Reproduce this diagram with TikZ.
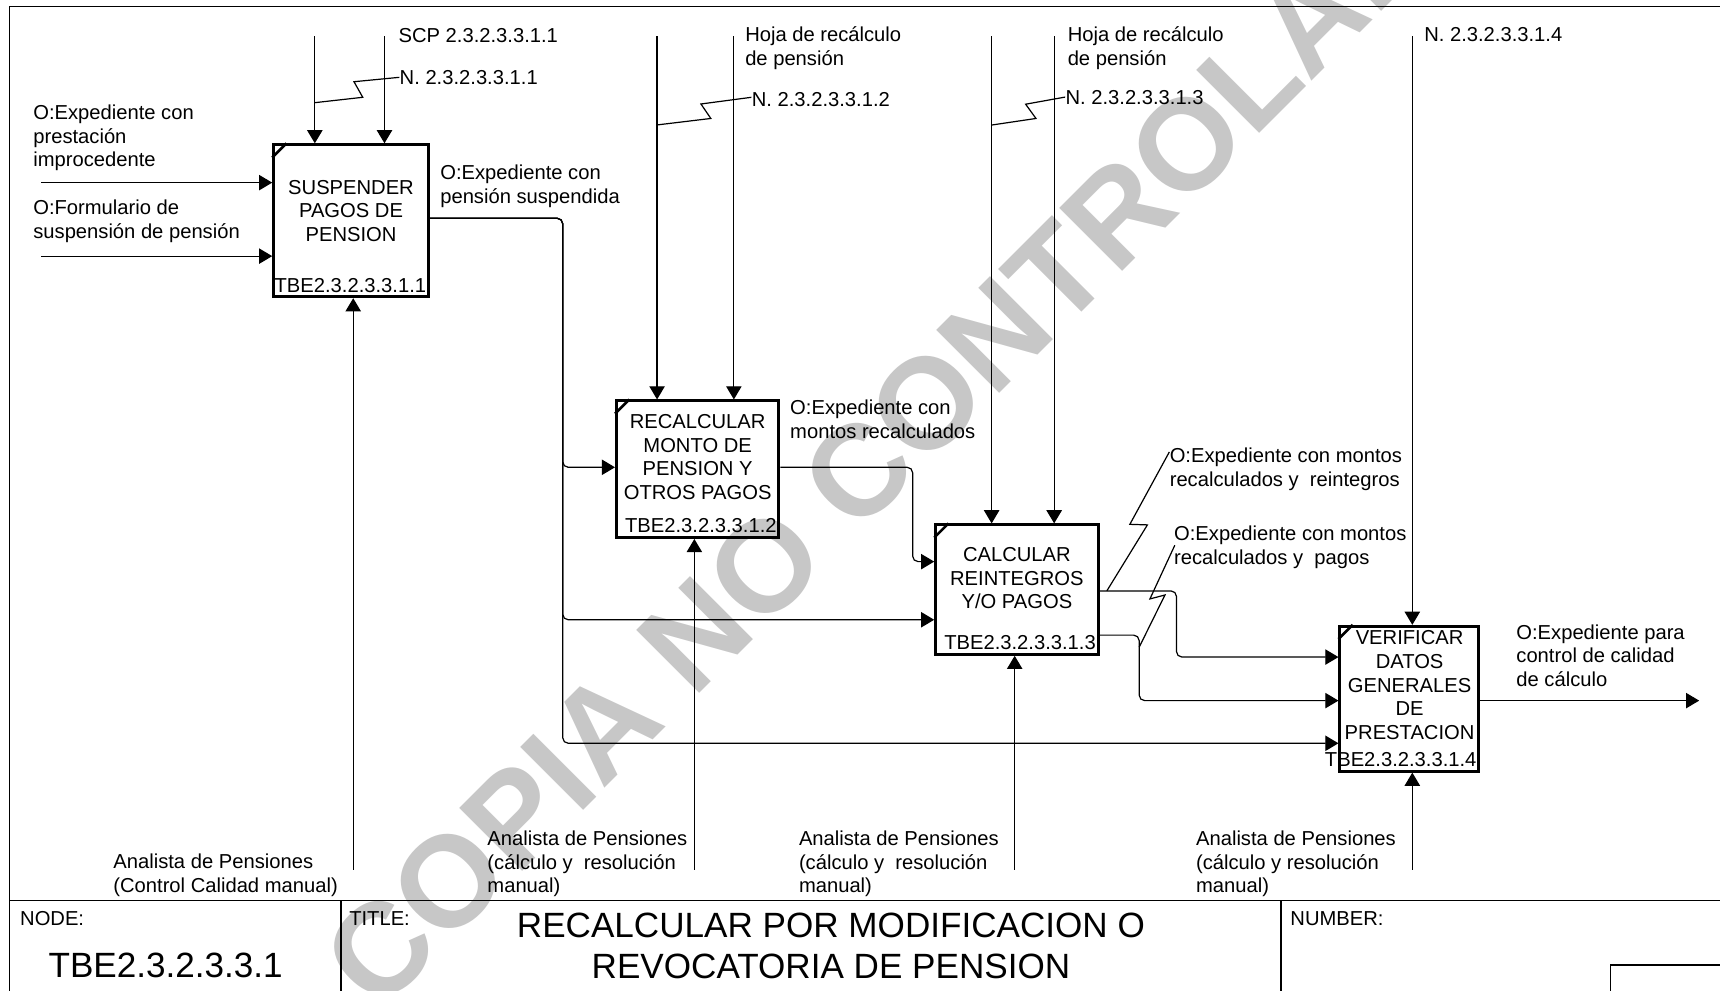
\documentclass[tikz,border=0pt]{standalone}
\usepackage{fontspec}
\setmainfont{Liberation Sans}
\usetikzlibrary{arrows.meta,fit}
\newcommand\fl{\rule{0pt}{10pt}}
\newcommand\flT{\rule{0pt}{16pt}}
\begin{document}
\begin{tikzpicture}[x=0.5pt,y=-0.5pt,
  txt/.style={inner sep=0pt, font=\fontsize{9.2}{10.75}\selectfont},
  lbl/.style={txt, align=left, anchor=north west},
  btxt/.style={txt, align=center, anchor=north},
  code/.style={txt, anchor=base east},
  bigtxt/.style={inner sep=0pt, font=\fontsize{16}{18.5}\selectfont},
  pbox/.style={draw, line width=1.35pt, inner sep=0pt},
  ln/.style={line width=0.55pt},
  arr/.style={ln, -{Triangle[length=6pt,width=7pt]}},
  flow/.style={arr, rounded corners=2.5pt},
  framel/.style={line width=0.75pt},
  tick/.style={line width=1.2pt},
  wmark/.style={rotate=45, anchor=base west, inner sep=0pt, text=black!22,
    font=\fontsize{59}{62}\selectfont\bfseries},
]
\path[use as bounding box] (0,0) rectangle (1568,903);
\clip (0,0) rectangle (1568,903);

% watermark (behind)
\node[wmark] (wm) at (345,925) {COPIA NO CONTROLADA};

% frame and title block
\draw[framel] (8.7,1000) -- (8.7,6) -- (1600,6);
\draw[framel] (8.7,821) -- (1600,821);
\draw[framel] (311,821) -- (311,1000);
\draw[framel] (1168,821) -- (1168,1000);
\draw[framel] (1468,1000) -- (1468,880) -- (1600,880);

\node[txt, anchor=base west] (nd) at (18,844) {NODE:};
\node[txt, anchor=base west] (tt) at (318,844) {TITLE:};
\node[txt, anchor=base west] (nb) at (1176,844) {NUMBER:};
\node[bigtxt, anchor=base] (nv) at (151,891.5) {TBE2.3.2.3.3.1};
\node[bigtxt, align=center, anchor=north] (tv) at (757.5,822.5)
  {\flT RECALCULAR POR MODIFICACION O\\REVOCATORIA DE PENSION};

% boxes
\node[pbox, fit={(249.5,132) (390.5,270.5)}] (b1) {};
\node[pbox, fit={(562,365.5) (710,490)}] (b2) {};
\node[pbox, fit={(853,478.5) (1001,596.5)}] (b3) {};
\node[pbox, fit={(1221.5,571) (1348,703)}] (b4) {};
\foreach \b in {b1,b2,b3,b4}
  \draw[tick] ([yshift=-6.5pt]\b.north west) -- ([xshift=6.5pt]\b.north west);

\node[btxt] (t1) at (320,156.5) {\fl SUSPENDER\\PAGOS DE\\PENSION};
\node[btxt] (t2) at (636,370.5) {\fl RECALCULAR\\MONTO DE\\PENSION Y\\OTROS PAGOS};
\node[btxt] (t3) at (927,491.5) {\fl CALCULAR\\REINTEGROS\\Y/O PAGOS};
\node[btxt] (t4) at (1285,567.5) {\fl VERIFICAR\\DATOS\\GENERALES\\DE\\PRESTACION};
\node[code] (k1) at ([xshift=-1.5pt,yshift=2.75pt]b1.south east) {TBE2.3.2.3.3.1.1};
\node[code] (k2) at ([xshift=-1.5pt,yshift=2.75pt]b2.south east) {TBE2.3.2.3.3.1.2};
\node[code] (k3) at ([xshift=-1.5pt,yshift=2.75pt]b3.south east) {TBE2.3.2.3.3.1.3};
\node[code] (k4) at ([xshift=-1.5pt,yshift=2.75pt]b4.south east) {TBE2.3.2.3.3.1.4};

% labels
\node[lbl] (l1) at (30,88.5) {\fl O:Expediente con\\prestación\\improcedente};
\node[lbl] (l2) at (30,175.5) {\fl O:Formulario de\\suspensión de pensión};
\node[lbl] (l3) at (363,18) {\fl SCP 2.3.2.3.3.1.1};
\node[lbl] (l4) at (364,56.5) {\fl N. 2.3.2.3.3.1.1};
\node[lbl] (l5) at (401,143.5) {\fl O:Expediente con\\pensión suspendida};
\node[lbl] (l6) at (679,17.5) {\fl Hoja de recálculo\\de pensión};
\node[lbl] (l7) at (685,76.5) {\fl N. 2.3.2.3.3.1.2};
\node[lbl] (l8) at (973,17.5) {\fl Hoja de recálculo\\de pensión};
\node[lbl] (l9) at (971,74.5) {\fl N. 2.3.2.3.3.1.3};
\node[lbl] (l10) at (1298,17.5) {\fl N. 2.3.2.3.3.1.4};
\node[lbl] (l11) at (720,357.5) {\fl O:Expediente con\\montos recalculados};
\node[lbl] (l12) at (1066,401.5) {\fl O:Expediente con montos\\recalculados y~~reintegros};
\node[lbl] (l13) at (1070,472.5) {\fl O:Expediente con montos\\recalculados y~~pagos};
\node[lbl] (l14) at (1382,562.5) {\fl O:Expediente para\\control de calidad\\de cálculo};
\node[lbl] (l15) at (103,771.5) {\fl Analista de Pensiones\\(Control Calidad manual)};
\node[lbl] (l16) at (444,750.5) {\fl Analista de Pensiones\\(cálculo y~~resolución\\manual)};
\node[lbl] (l17) at (728,750.5) {\fl Analista de Pensiones\\(cálculo y~~resolución\\manual)};
\node[lbl] (l18) at (1090,750.5) {\fl Analista de Pensiones\\(cálculo y resolución\\manual)};

% controls from top
\coordinate (a1) at (287,33);
\coordinate (a2) at (350.5,33);
\coordinate (a3) at (599,33);
\coordinate (a4) at (669,33);
\coordinate (a5) at (904,33);
\coordinate (a6) at (961,33);
\coordinate (a7) at (1287.5,33);
\draw[arr] (a1) -- (a1 |- b1.north);
\draw[arr] (a2) -- (a2 |- b1.north);
\draw[arr] (a3) -- (a3 |- b2.north);
\draw[arr] (a4) -- (a4 |- b2.north);
\draw[arr] (a5) -- (a5 |- b3.north);
\draw[arr] (a6) -- (a6 |- b3.north);
\draw[arr] (a7) -- (a7 |- b4.north);

% mechanisms from bottom
\coordinate (u1) at (322,793);
\coordinate (u2) at (633,793);
\coordinate (u3) at (925,793);
\coordinate (u4) at (1287.5,793);
\draw[arr] (u1) -- (u1 |- b1.south);
\draw[arr] (u2) -- (u2 |- b2.south);
\draw[arr] (u3) -- (u3 |- b3.south);
\draw[arr] (u4) -- (u4 |- b4.south);

% inputs
\coordinate (i1) at (37.5,166.5);
\coordinate (i2) at (37.5,233.5);
\draw[arr] (i1) -- (i1 -| b1.west);
\draw[arr] (i2) -- (i2 -| b1.west);

% output
\coordinate (o4) at (1549,638.7);
\draw[arr] (b4.east |- o4) -- (o4);

% flows
\coordinate (j1) at (513,199);
\coordinate (j2) at (513,426);
\coordinate (j3) at (513,565);
\coordinate (j4) at (513,677.6);
\draw[flow] (b1.east |- j1) -- (j1) -- (j2) -- (j2 -| b2.west);
\draw[flow] (b1.east |- j1) -- (j1) -- (j3) -- (j3 -| b3.west);
\draw[flow] (b1.east |- j1) -- (j1) -- (j4) -- (j4 -| b4.west);

\coordinate (m1) at (832,426);
\coordinate (m2) at (832,512);
\draw[flow] (b2.east |- m1) -- (m1) -- (m2) -- (m2 -| b3.west);

\coordinate (n1) at (1072.5,538.7);
\coordinate (n2) at (1072.5,599);
\draw[flow] (b3.east |- n1) -- (n1) -- (n2) -- (n2 -| b4.west);

\coordinate (p1) at (1038.5,579);
\coordinate (p2) at (1038.5,638.7);
\draw[flow] (b3.east |- p1) -- (p1) -- (p2) -- (p2 -| b4.west);

% squiggles
\draw[ln] (287,93.6) -- (330.7,88.7) -- (322.7,74.5) -- (364,70.5);
\draw[ln] (599,113.9) -- (648,108) -- (639,94.8) -- (685,88.7);
\draw[ln] (904,114) -- (944.4,108) -- (935,95) -- (971,88.5);
\draw[ln] (1009,538.7) -- (1046,478.5) -- (1030,478) -- (1066,412);
\draw[ln] (1038.5,590) -- (1062,542.4) -- (1048.3,546) -- (1071,497);
\end{tikzpicture}
\end{document}
